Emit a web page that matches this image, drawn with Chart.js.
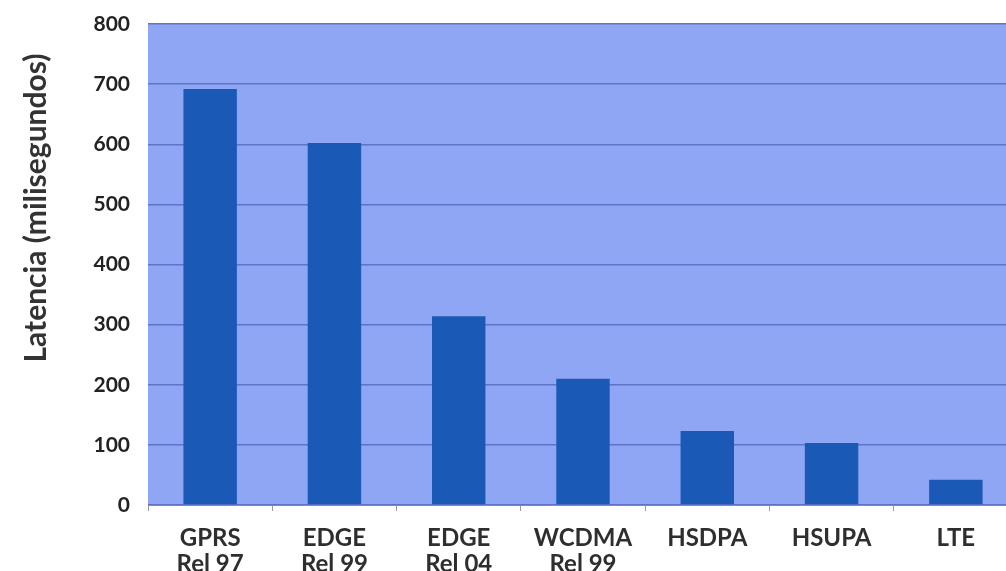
<!DOCTYPE html>
<html>
<head>
<meta charset="utf-8">
<script src="https://cdn.jsdelivr.net/npm/chart.js@4.4.1/dist/chart.umd.min.js"></script>
<style>
  html, body { margin: 0; padding: 0; background: #fff; overflow: hidden; }
  #wrap { width: 1020px; height: 571px; }
</style>
</head>
<body>
<div id="wrap"><canvas id="latencyChart" width="1020" height="571"></canvas></div>
<script>
// Latency per mobile technology (ms)
const categories = [
  ['GPRS', 'Rel 97'],
  ['EDGE', 'Rel 99'],
  ['EDGE', 'Rel 04'],
  ['WCDMA', 'Rel 99'],
  ['HSDPA'],
  ['HSUPA'],
  ['LTE']
];
const latencyMs = [692, 602, 314, 210, 123, 103, 42];
const yTicks = [0, 100, 200, 300, 400, 500, 600, 700, 800];
const yTitle = 'Latencia (milisegundos)';

const FONT = 'Lato, "Open Sans", sans-serif';

// plot background + rotated axis title
const backdrop = {
  id: 'backdrop',
  beforeDraw(chart) {
    const { ctx, chartArea: a } = chart;
    ctx.save();
    ctx.fillStyle = '#8fa6f4';
    ctx.fillRect(a.left, a.top, a.right - a.left, a.bottom - a.top);
    ctx.restore();
  },
  afterDraw(chart) {
    const { ctx } = chart;
    ctx.save();
    ctx.translate(36, 208);
    ctx.rotate(-Math.PI / 2);
    ctx.font = 'bold 30px ' + FONT;
    ctx.fillStyle = '#333';
    ctx.textAlign = 'center';
    ctx.textBaseline = 'middle';
    ctx.fillText(yTitle, 0, 0);
    ctx.restore();
  }
};

new Chart(document.getElementById('latencyChart'), {
  type: 'bar',
  data: {
    labels: categories,
    datasets: [{
      data: latencyMs,
      backgroundColor: '#1a5ab6',
      borderWidth: 0,
      categoryPercentage: 1,
      barPercentage: 0.43
    }]
  },
  options: {
    responsive: false,
    animation: false,
    layout: { padding: { top: 24, right: 2, left: 0, bottom: 0 } },
    plugins: {
      legend: { display: false },
      tooltip: { enabled: false }
    },
    scales: {
      x: {
        grid: {
          display: true,
          drawOnChartArea: false,
          drawTicks: true,
          tickLength: 6,
          offset: true,
          color: '#9a9a9a'
        },
        border: { display: true, color: '#8a8a8a', width: 1 },
        ticks: {
          color: '#2e2e2e',
          font: { family: FONT, size: 24, weight: 'bold', lineHeight: 1.05 },
          padding: 15,
          maxRotation: 0,
          autoSkip: false
        },
        afterFit(scale) { scale.height = 66; scale.paddingLeft = 0; scale.paddingRight = 0; }
      },
      y: {
        min: 0,
        max: 800,
        afterBuildTicks(scale) { scale.ticks = yTicks.map(v => ({ value: v })); },
        grid: {
          color: '#5f74c8',
          lineWidth: 1.5,
          drawTicks: false
        },
        border: { display: false },
        ticks: {
          color: '#222',
          font: { family: FONT, size: 21, weight: 'bold' },
          padding: 18
        },
        afterFit(scale) { scale.width = 148; scale.paddingTop = 0; scale.paddingBottom = 0; }
      }
    }
  },
  plugins: [backdrop]
});
</script>
</body>
</html>
